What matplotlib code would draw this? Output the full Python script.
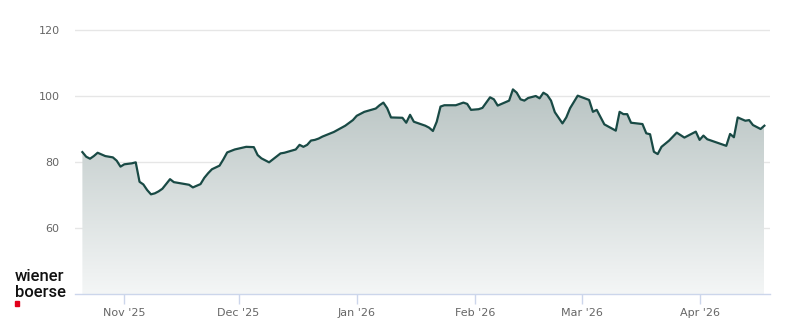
import matplotlib
matplotlib.use("Agg")
import matplotlib.pyplot as plt
import matplotlib.dates as mdates
import numpy as np
import pandas as pd
from matplotlib.colors import LinearSegmentedColormap

# ---- data ----
dates = [
    "2025-10-21", "2025-10-22", "2025-10-23", "2025-10-24", "2025-10-25", "2025-10-26",
    "2025-10-27", "2025-10-29", "2025-10-30", "2025-10-31", "2025-11-01", "2025-11-03",
    "2025-11-04", "2025-11-05", "2025-11-06", "2025-11-07", "2025-11-08", "2025-11-09",
    "2025-11-10", "2025-11-11", "2025-11-13", "2025-11-14", "2025-11-16", "2025-11-18",
    "2025-11-19", "2025-11-20", "2025-11-21", "2025-11-22", "2025-11-23", "2025-11-24",
    "2025-11-26", "2025-11-27", "2025-11-28", "2025-11-30", "2025-12-03", "2025-12-05",
    "2025-12-06", "2025-12-07", "2025-12-09", "2025-12-10", "2025-12-12", "2025-12-13",
    "2025-12-16", "2025-12-17", "2025-12-18", "2025-12-19", "2025-12-20", "2025-12-21",
    "2025-12-22", "2025-12-23", "2025-12-26", "2025-12-29", "2025-12-31", "2026-01-01",
    "2026-01-03", "2026-01-06", "2026-01-07", "2026-01-08", "2026-01-09", "2026-01-10",
    "2026-01-13", "2026-01-14", "2026-01-15", "2026-01-16", "2026-01-19", "2026-01-20",
    "2026-01-21", "2026-01-22", "2026-01-23", "2026-01-24", "2026-01-27", "2026-01-29",
    "2026-01-30", "2026-01-31", "2026-02-02", "2026-02-03", "2026-02-05", "2026-02-06",
    "2026-02-07", "2026-02-10", "2026-02-11", "2026-02-12", "2026-02-13", "2026-02-14",
    "2026-02-15", "2026-02-17", "2026-02-18", "2026-02-19", "2026-02-20", "2026-02-21",
    "2026-02-22", "2026-02-24", "2026-02-25", "2026-02-26", "2026-02-28", "2026-03-03",
    "2026-03-04", "2026-03-05", "2026-03-07", "2026-03-10", "2026-03-11", "2026-03-12",
    "2026-03-13", "2026-03-14", "2026-03-17", "2026-03-18", "2026-03-19", "2026-03-20",
    "2026-03-21", "2026-03-22", "2026-03-24", "2026-03-26", "2026-03-28", "2026-03-31",
    "2026-04-01", "2026-04-02", "2026-04-03", "2026-04-08", "2026-04-09", "2026-04-10",
    "2026-04-11", "2026-04-13", "2026-04-14", "2026-04-15", "2026-04-17", "2026-04-18",
]
values = [
    83.0, 81.6, 81.0, 81.8, 82.8, 82.3,
    81.8, 81.4, 80.4, 78.6, 79.3, 79.6,
    79.9, 74.0, 73.2, 71.5, 70.2, 70.5,
    71.1, 71.9, 74.8, 73.9, 73.5, 73.1,
    72.3, 72.8, 73.3, 75.2, 76.6, 77.8,
    78.9, 80.8, 82.9, 83.8, 84.6, 84.5,
    82.1, 81.1, 79.9, 80.8, 82.6, 82.8,
    83.8, 85.2, 84.6, 85.2, 86.5, 86.7,
    87.1, 87.7, 89.1, 91.0, 92.7, 94.0,
    95.2, 96.2, 97.2, 98.0, 96.3, 93.5,
    93.4, 91.9, 94.3, 92.2, 91.0, 90.4,
    89.4, 92.2, 96.8, 97.2, 97.2, 98.0,
    97.6, 95.8, 96.0, 96.4, 99.6, 99.0,
    97.1, 98.6, 102.0, 101.0, 99.0, 98.6,
    99.4, 100.0, 99.3, 101.0, 100.3, 98.6,
    95.1, 91.7, 93.5, 96.3, 100.1, 98.8,
    95.2, 95.8, 91.4, 89.5, 95.2, 94.5,
    94.5, 91.9, 91.5, 88.7, 88.4, 83.1,
    82.4, 84.6, 86.5, 88.9, 87.4, 89.2,
    86.7, 88.0, 86.9, 84.9, 88.5, 87.5,
    93.5, 92.5, 92.7, 91.2, 90.0, 91.0,
]
y_ticks = [60, 80, 100, 120]
x_tick_dates = ["2025-11-01", "2025-12-01", "2026-01-01", "2026-02-01", "2026-03-01", "2026-04-01"]
x_tick_labels = ["Nov '25", "Dec '25", "Jan '26", "Feb '26", "Mar '26", "Apr '26"]

# ---- figure ----
W, H = 800, 324
fig = plt.figure(figsize=(W / 100, H / 100), dpi=100)
ax_l, ax_r, ax_t, ax_b = 75, 770, 10, 294
ax = fig.add_axes([ax_l / W, 1 - ax_b / H, (ax_r - ax_l) / W, (ax_b - ax_t) / H])

x = pd.to_datetime(dates)
xn = mdates.date2num(x)
v = np.array(values)

y_lo = 40
y_hi = 120 + 20 / 3.3
nov1 = mdates.date2num(pd.Timestamp("2025-11-01"))
px_per_day = 3.81
ax.set_xlim(nov1 + (ax_l - 124.3) / px_per_day, nov1 + (ax_r - 124.3) / px_per_day)
ax.set_ylim(y_lo, y_hi)

# gradient fill
poly = ax.fill_between(xn, v, y_lo, color="none", lw=0)
cmap = LinearSegmentedColormap.from_list("g", [(0.957, 0.965, 0.965), (0.725, 0.769, 0.765)])
grad = np.linspace(0, 1, 256).reshape(-1, 1)
im = ax.imshow(grad, cmap=cmap, aspect="auto", origin="lower",
               extent=[xn.min(), xn.max(), y_lo, v.max()], zorder=1)
path = poly.get_paths()[0]
im.set_clip_path(path, transform=ax.transData)

ax.plot(xn, v, color="#194a45", lw=1.6, zorder=3, solid_joinstyle="round")

# grid & axes styling
for s in ["top", "right", "left"]:
    ax.spines[s].set_visible(False)
ax.spines["bottom"].set_color("#ccd6eb")
ax.spines["bottom"].set_linewidth(1)
ax.set_yticks(y_ticks)
ax.yaxis.grid(True, color="#e6e6e6", lw=1)
ax.set_axisbelow(True)
ax.tick_params(axis="y", length=0, pad=11, labelsize=8, labelcolor="#666666")
ax.set_xticks(mdates.date2num(pd.to_datetime(x_tick_dates)))
ax.set_xticklabels(x_tick_labels)
ax.tick_params(axis="x", length=7, width=1, color="#ccd6eb", pad=3, labelsize=8, labelcolor="#666666")
ax.patch.set_alpha(0)

# logo
logo_font = dict(fontsize=12, family=["Roboto", "Liberation Sans", "DejaVu Sans"],
                 fontweight="medium", color="#111111", va="baseline")
fig.text(15 / W, 1 - 281 / H, "wiener", **logo_font)
fig.text(15 / W, 1 - 297 / H, "boerse", **logo_font)
fig.patches.append(plt.Rectangle((15 / W, 1 - 305.5 / H), 4.2 / W, 4.2 / H,
                                 transform=fig.transFigure, color="#e2001a", figure=fig))

fig.savefig("out.png", dpi=100)
